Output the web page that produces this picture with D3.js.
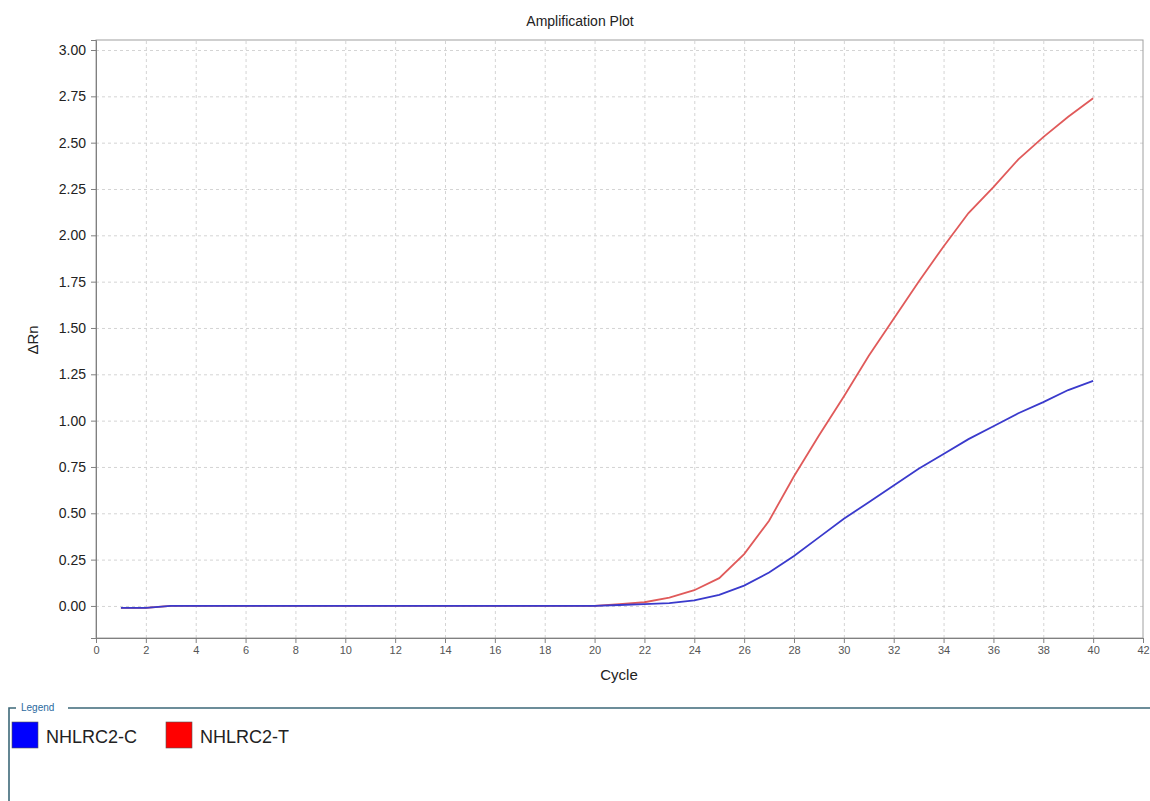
<!DOCTYPE html>
<html>
<head>
<meta charset="utf-8">
<script src="https://cdn.jsdelivr.net/npm/d3@7"></script>
<style>
  body{margin:0;background:#fff;font-family:"Liberation Sans",Arial,sans-serif}
  .grid line{stroke:#d4d4d4;stroke-dasharray:3,3}
  .grid path{display:none}
</style>
</head>
<body>
<div id="chart"></div>
<script>
var cycles = d3.range(1, 41)
var seriesNames = ["NHLRC2-C", "NHLRC2-T"]
var seriesColors = ["#3a3acc", "#dd4848"]
var legendColors = ["#0000ff", "#ff0000"]

var controlValues = [-0.01,-0.01,0,0,0,0,0,0,0,0,0,0,0,0,0,0,0,0,0,0,
    0.005,0.01,0.015,0.03,0.06,0.11,0.18,0.27,0.37,0.47,
    0.56,0.65,0.74,0.82,0.90,0.97,1.04,1.10,1.165,1.215]
var treatedValues = [-0.01,-0.01,0,0,0,0,0,0,0,0,0,0,0,0,0,0,0,0,0,0,
    0.01,0.02,0.045,0.085,0.15,0.28,0.46,0.70,0.92,1.13,
    1.35,1.55,1.75,1.94,2.12,2.26,2.41,2.53,2.64,2.74]

var xTicks = d3.range(0, 43, 2)
var yTicks = [0,0.25,0.5,0.75,1,1.25,1.5,1.75,2,2.25,2.5,2.75,3]

var W = 1150, H = 801
var pL = 96, pR = 1143, pT = 40, pB = 638

var svg = d3.select("#chart").append("svg")
    .attr("width", W).attr("height", H)

var x = d3.scaleLinear().domain([0, 42]).range([pL, pR])
var y = d3.scaleLinear().domain([-0.173, 3.054]).range([pB, pT])

// grid
svg.append("g").attr("class","grid")
    .attr("transform","translate(0,"+pB+")")
    .call(d3.axisBottom(x).tickValues(xTicks.slice(1,-1)).tickSize(-(pB-pT)).tickFormat(""))
svg.append("g").attr("class","grid")
    .attr("transform","translate("+pL+",0)")
    .call(d3.axisLeft(y).tickValues(yTicks).tickSize(-(pR-pL)).tickFormat(""))

// frame
svg.append("rect").attr("x",pL).attr("y",pT)
    .attr("width",pR-pL).attr("height",pB-pT)
    .attr("fill","none").attr("stroke","#a0a0a0")

var xAxis = svg.append("g").attr("transform","translate(0,"+pB+")")
    .call(d3.axisBottom(x).tickValues(xTicks).tickSize(5).tickPadding(3))
xAxis.select(".domain").attr("stroke","#808080")
xAxis.selectAll("line").attr("stroke","#808080")
xAxis.selectAll("text").attr("font-size",11).attr("fill","#555")
    .attr("font-family","Liberation Sans, Arial, sans-serif")

var yAxis = svg.append("g").attr("transform","translate("+pL+",0)")
    .call(d3.axisLeft(y).tickValues(yTicks).tickFormat(d3.format(".2f")).tickSize(5).tickPadding(5))
yAxis.select(".domain").attr("stroke","#808080")
yAxis.selectAll("line").attr("stroke","#808080")
yAxis.selectAll("text").attr("font-size",14).attr("fill","#222")
    .attr("font-family","Liberation Sans, Arial, sans-serif")

// lines
var line = d3.line()
    .x(function(d,i){return x(cycles[i])})
    .y(function(d){return y(d)})

var allSeries = [controlValues, treatedValues]
for(var s = allSeries.length-1; s >= 0; s--){
    svg.append("path").datum(allSeries[s])
        .attr("d", line)
        .attr("fill","none")
        .attr("stroke", seriesColors[s])
        .attr("stroke-width", 1.8)
        .attr("stroke-opacity", s==1 ? 0.9 : 1)
}

// labels
svg.append("text").text("Amplification Plot")
    .attr("x", 580).attr("y", 26).attr("text-anchor","middle")
    .attr("font-size",14).attr("fill","#222")
svg.append("text").text("Cycle")
    .attr("x", 619).attr("y", 680).attr("text-anchor","middle")
    .attr("font-size",15).attr("fill","#222")
svg.append("text").text("ΔRn")
    .attr("transform","translate(38,340) rotate(-90)")
    .attr("text-anchor","middle")
    .attr("font-size",15).attr("fill","#222")

// legend box
var lg = svg.append("g")
lg.append("path")
    .attr("d","M9,801 V708 H16 M68,708 H1150")
    .attr("fill","none").attr("stroke","#3d6878").attr("stroke-width",1.6)
lg.append("text").text("Legend")
    .attr("x",21).attr("y",711).attr("font-size",10).attr("fill","#2a6aa0")

var items = lg.selectAll(".item").data(seriesNames).join("g")
    .attr("transform",function(d,i){return "translate("+(12+i*154)+",722)"})
items.append("rect").attr("width",26).attr("height",26)
    .attr("fill",function(d,i){return legendColors[i]})
    .attr("stroke","#555").attr("stroke-width",0.6)
items.append("text").text(function(d){return d})
    .attr("x",34).attr("y",21).attr("font-size",18).attr("fill","#222")
</script>
</body>
</html>
